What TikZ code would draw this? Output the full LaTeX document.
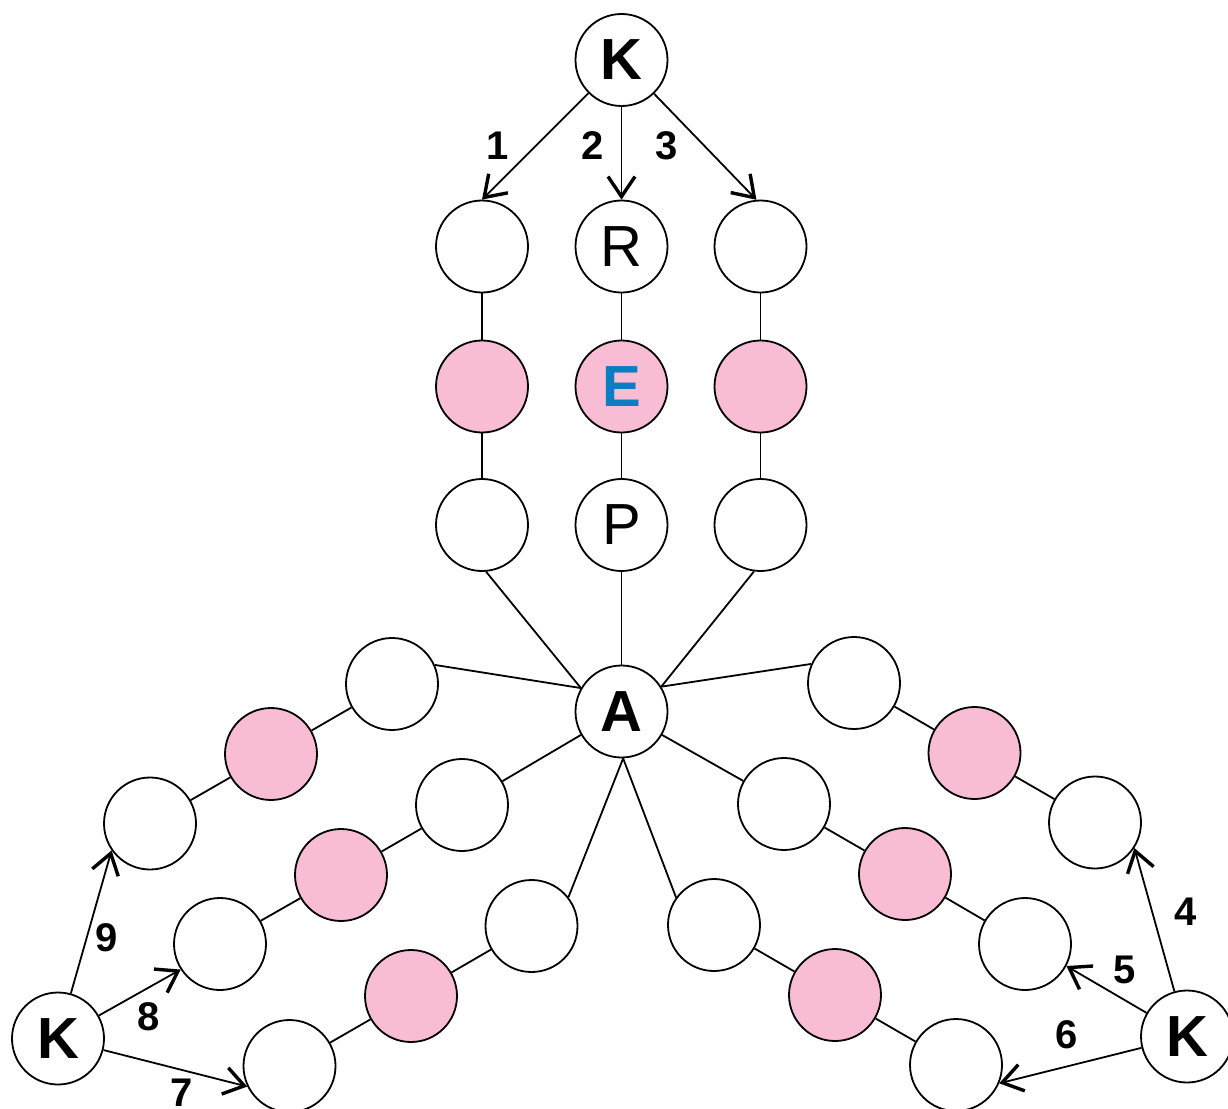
\documentclass[tikz,border=0pt]{standalone}
\usepackage{fontspec}
\setmainfont{Liberation Sans}
\usetikzlibrary{arrows.meta}
\definecolor{pinkfill}{HTML}{F8BCD5}
\definecolor{eblue}{HTML}{0A7EC2}
\tikzset{
  ball/.style={circle,draw=black,line width=1.8pt,fill=white,minimum size=92pt,inner sep=0pt},
  pball/.style={ball,fill=pinkfill},
  big/.style={font=\fontsize{58}{58}\selectfont},
  bigb/.style={font=\fontsize{58}{58}\selectfont\bfseries},
  num/.style={font=\fontsize{40}{40}\selectfont\bfseries,inner sep=0pt},
  link/.style={line width=1.8pt},
  arr/.style={line width=1.8pt,-{Straight Barb[length=20pt,width=27pt,line width=3.4pt]}}
}
\begin{document}
\begin{tikzpicture}[x=1pt,y=-1pt]
\useasboundingbox (0,0) rectangle (1228,1108);
% top K and columns
\node[ball,bigb] (Kt) at (621.5,60) {K};
\node[ball] (c1a) at (482,246.5) {};
\node[ball,big] (R) at (621.5,246.5) {R};
\node[ball] (c3a) at (760.5,246.5) {};
\node[pball] (c1b) at (482,386.5) {};
\node[pball,bigb,text=eblue] (E) at (621.5,386.5) {E};
\node[pball] (c3b) at (760.5,386.5) {};
\node[ball] (c1c) at (482,525) {};
\node[ball,big] (P) at (621.5,525) {P};
\node[ball] (c3c) at (760.5,525) {};
\node[ball,bigb] (A) at (621.5,711.5) {A};
% left arms
\node[ball] (L1a) at (392,684) {};
\node[pball] (L1b) at (271,754) {};
\node[ball] (L1c) at (150,823.5) {};
\node[ball] (L2a) at (462,805) {};
\node[pball] (L2b) at (341,875) {};
\node[ball] (L2c) at (220,944) {};
\node[ball] (L3a) at (531.5,926) {};
\node[pball] (L3b) at (411,996) {};
\node[ball] (L3c) at (289.5,1066) {};
% right arms
\node[ball] (R1a) at (854,683) {};
\node[pball] (R1b) at (974.5,753) {};
\node[ball] (R1c) at (1095,822.5) {};
\node[ball] (R2a) at (784,804) {};
\node[pball] (R2b) at (905,874) {};
\node[ball] (R2c) at (1025,944) {};
\node[ball] (R3a) at (714,925) {};
\node[pball] (R3b) at (835,995) {};
\node[ball] (R3c) at (956,1065) {};
% side K nodes
\node[ball,bigb] (Kl) at (58,1038.5) {K};
\node[ball,bigb] (Kr) at (1187,1036.5) {K};
% links
\draw[link] (c1a) -- (c1b) -- (c1c);
\draw[link] (R) -- (E) -- (P);
\draw[link] (c3a) -- (c3b) -- (c3c);
\draw[link] (c1c.275) -- (A.150);
\draw[link] (P) -- (A);
\draw[link] (c3c.262) -- (A.32);
\draw[link] (L1c) -- (L1b) -- (L1a);
\draw[link] (L1a.24) -- (A.150);
\draw[link] (L2c) -- (L2b) -- (L2a);
\draw[link] (L2a) -- (A.210);
\draw[link] (L3c) -- (L3b) -- (L3a);
\draw[link] (L3a.38) -- (A.272);
\draw[link] (R1c) -- (R1b) -- (R1a);
\draw[link] (R1a.156) -- (A.32);
\draw[link] (R2c) -- (R2b) -- (R2a);
\draw[link] (R2a) -- (A.330);
\draw[link] (R3c) -- (R3b) -- (R3a);
\draw[link] (R3a.144) -- (A.272);
% arrows
\draw[arr] (Kt) -- (c1a.north);
\draw[arr] (Kt) -- (R.north);
\draw[arr] (Kt) -- (c3a.95);
\draw[arr] (Kl) -- (L1c.215);
\draw[arr] (Kl) -- (L2c.213);
\draw[arr] (Kl) -- (L3c.206);
\draw[arr] (Kr) -- (R1c.327);
\draw[arr] (Kr) -- (R2c.332);
\draw[arr] (Kr) -- (R3c.337);
% labels
\node[num] (n1) at (498,146) {1};
\node[num] (n2) at (593,146) {2};
\node[num] (n3) at (667,146) {3};
\node[num] (n4) at (1186,912) {4};
\node[num] (n5) at (1125,970) {5};
\node[num] (n6) at (1067,1035) {6};
\node[num] (n7) at (182,1093) {7};
\node[num] (n8) at (149,1017) {8};
\node[num] (n9) at (107,938) {9};
\end{tikzpicture}
\end{document}
